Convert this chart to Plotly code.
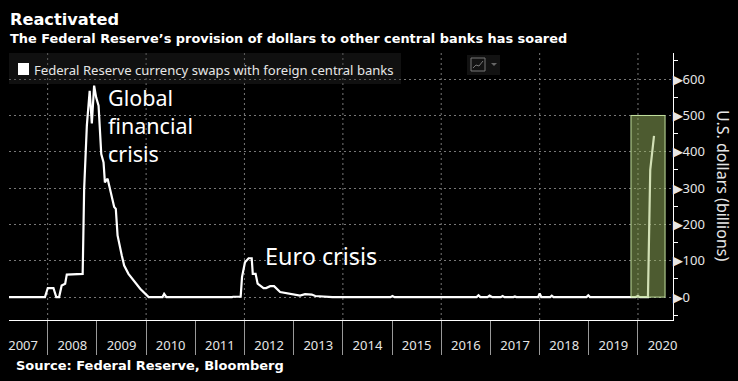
import plotly.graph_objects as go

W, H = 738, 381
L, R, T, B = 9, 673, 53, 320

dates = ["2007-03-20","2007-12-12","2008-01-02","2008-02-13","2008-03-05","2008-03-26","2008-04-14","2008-05-10",
"2008-05-22","2008-08-29","2008-09-17","2008-09-28","2008-10-18","2008-11-08","2008-11-24","2008-12-11","2008-12-26",
"2009-01-13","2009-02-02","2009-02-19","2009-03-01","2009-03-21","2009-04-10","2009-05-09","2009-05-21","2009-06-03",
"2009-07-04","2009-07-22","2009-08-23","2009-10-12","2009-11-18","2010-01-20","2010-05-03","2010-05-15","2010-06-01",
"2011-10-01","2011-10-10","2011-12-04","2011-12-14","2012-01-05","2012-02-01","2012-02-24","2012-03-03","2012-03-24",
"2012-04-08","2012-05-22","2012-06-10","2012-07-10","2012-08-08","2012-09-22","2012-11-10","2012-12-30","2013-02-17",
"2013-03-26","2013-05-15","2013-06-10","2013-08-08","2013-10-15","2014-12-20","2015-01-04","2015-01-20","2016-06-25",
"2016-07-08","2016-07-20","2016-09-20","2016-10-04","2016-10-18","2016-12-10","2016-12-25","2017-01-15","2017-03-18",
"2017-04-01","2017-04-15","2017-06-20","2017-07-01","2017-07-12","2017-09-22","2017-10-04","2017-10-16","2017-12-20",
"2018-01-01","2018-01-14","2018-03-20","2018-04-01","2018-04-14","2018-12-15","2018-12-28","2019-01-10","2019-12-15",
"2020-01-01","2020-01-15","2020-03-15","2020-04-01","2020-04-29"]
swaps = [0,0,25,25,0,0,32,37,62,62,64,298,472,568,478,582,550,527,394,371,316,326,293,248,243,170,115,87,64,41,23,0,0,9,0,
0,1,1,55,96,107,107,64,64,37,25,25,30,30,14,11,7,4,8,7,3,1,0,0,3,0,0,2,0,0,5,0,0,4,0,0,3,0,0,2,0,0,2,0,0,10,0,0,4,0,0,5,0,
0,3,0,0,350,444]

x_range = ["2007-03-20", "2020-09-17"]
y_range = [-63, 672]
y_major = [0, 100, 200, 300, 400, 500, 600]
y_labels = ["▶0", "▶100", "▶200", "▶300", "▶400", "▶500", "▶600"]
grid_years = ["2008-01-01","2010-01-01","2012-01-01","2014-01-01","2016-01-01","2018-01-01","2020-01-01"]
band_dates = ["2019-11-10", "2020-07-20"]
band_values = [0, 500]

TEXT = "#e6e6e6"
BODY = "Noto Sans"
HEAD = "DejaVu Sans"

# helpers that map window pixels to the figure's paper coordinates (which span the plot area only)
def pax(x): return (x - L) / (R - L)
def pay(y): return (B - y) / (B - T)

fig = go.Figure()
fig.add_trace(go.Scatter(x=dates, y=swaps, mode="lines", line=dict(color="white", width=2.2), hoverinfo="skip"))

shapes = []
for g in grid_years:
    shapes.append(dict(type="line", xref="x", yref="paper", x0=g, x1=g, y0=0, y1=1, layer="below",
                       line=dict(color="#777", width=1, dash="2px,3px")))
shapes.append(dict(type="rect", xref="x", yref="y", x0=band_dates[0], x1=band_dates[1], y0=band_values[0], y1=band_values[1],
                   fillcolor="rgba(160,190,100,0.48)", line=dict(color="#c4e2a0", width=1), layer="above"))
# legend panel + icon
def rect(x0, y0, x1, y1, **kw):
    shapes.append(dict(type="rect", xref="paper", yref="paper", x0=pax(x0), x1=pax(x1), y0=pay(y0), y1=pay(y1), **kw))
rect(9, 53, 401, 84, fillcolor="rgba(45,45,45,0.35)", line=dict(width=0), layer="above")
rect(18, 63, 29, 75, fillcolor="white", line=dict(width=0), layer="above")
rect(467, 55, 500, 75, fillcolor="rgba(45,45,45,0.4)", line=dict(width=0), layer="above")
rect(471, 58, 485, 71, fillcolor="rgba(0,0,0,0)", line=dict(color="#777", width=1), layer="above")
icon = [(473, 68), (476, 65), (479, 66), (483, 61)]
shapes.append(dict(type="path", xref="paper", yref="paper", layer="above", line=dict(color="#777", width=1),
                   path="M" + " L".join(f"{pax(a):.5f},{pay(b):.5f}" for a, b in icon)))
tri = [(491, 63), (497, 63), (494, 66)]
shapes.append(dict(type="path", xref="paper", yref="paper", layer="above", fillcolor="#666", line=dict(width=0),
                   path="M" + " L".join(f"{pax(a):.5f},{pay(b):.5f}" for a, b in tri) + " Z"))

def note(x, y, text, size, family=BODY, bold=False, color="white", anchor="left", angle=0, va="middle"):
    fig.add_annotation(xref="paper", yref="paper", x=pax(x), y=pay(y), text=f"<b>{text}</b>" if bold else text,
                       showarrow=False, xanchor=anchor, yanchor=va, textangle=angle, align="left",
                       xshift=-1 if anchor == "left" else 0,
                       font=dict(family=family, size=size, color=color))

note(9, 20, "Reactivated", 16.2, HEAD, True)
note(9, 38, "The Federal Reserve’s provision of dollars to other central banks has soared", 12.9, HEAD, True)
note(15, 365, "Source: Federal Reserve, Bloomberg", 13, HEAD, True)
note(33, 70, "Federal Reserve currency swaps with foreign central banks", 13.1, BODY, color=TEXT)
note(107, 125, "Global<br>financial<br>crisis", 21.5)
note(264, 256, "Euro crisis", 23.4)
note(723, 185, "U.S. dollars (billions)", 16, BODY, color=TEXT, anchor="center", angle=90)

fig.update_layout(
    width=W, height=H, paper_bgcolor="black", plot_bgcolor="black", showlegend=False,
    margin=dict(l=L, r=W - R, t=T, b=H - B, autoexpand=False), shapes=shapes,
    font=dict(family=BODY, color=TEXT),
    xaxis=dict(type="date", range=x_range, dtick="M12", tick0="2007-01-01", ticklabelmode="period", tickformat="%Y",
               showgrid=False, zeroline=False, showline=True, linecolor="white", linewidth=1,
               ticks="outside", ticklen=34, tickcolor="#999", tickwidth=1, ticklabelstandoff=-21,
               tickfont=dict(size=13, color=TEXT, family=BODY)),
    yaxis=dict(side="right", range=y_range, tickvals=y_major, ticktext=y_labels, zeroline=False,
               showline=True, linecolor="white", linewidth=1, showgrid=True, gridcolor="#777", griddash="2px,3px",
               ticks="", ticklabelstandoff=-4, tickfont=dict(size=13, color=TEXT, family=BODY),
               minor=dict(dtick=50, tick0=0, ticks="outside", ticklen=4, tickcolor="white", showgrid=False)),
)
fig.write_html("out.html", config=dict(displayModeBar=False),
               post_script="document.body.style.margin='0';document.body.style.background='black';")
